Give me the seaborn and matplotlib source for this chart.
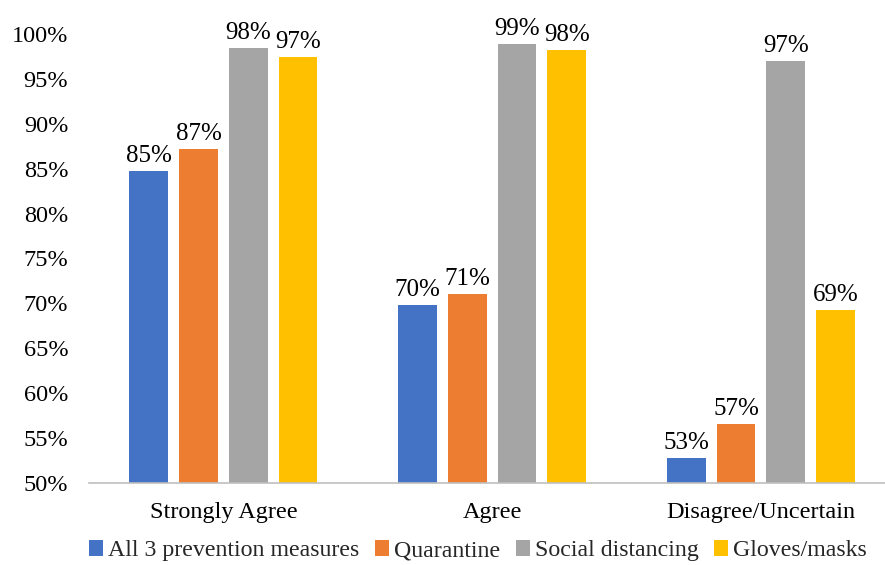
import matplotlib
matplotlib.use("Agg")
import matplotlib.pyplot as plt
import seaborn as sns
import pandas as pd

categories = ["Strongly Agree", "Agree", "Disagree/Uncertain"]
series = ["All 3 prevention measures", "Quarantine", "Social distancing", "Gloves/masks"]
all3 = [84.7, 69.8, 52.8]
quarantine = [87.2, 71.0, 56.6]
social = [98.4, 98.9, 97.0]
gloves = [97.4, 98.2, 69.3]
colors = ["#4472C4", "#ED7D31", "#A5A5A5", "#FFC000"]
yticks = [50, 55, 60, 65, 70, 75, 80, 85, 90, 95, 100]

rows = []
for s, vals in zip(series, [all3, quarantine, social, gloves]):
    for c, v in zip(categories, vals):
        rows.append({"cat": c, "series": s, "value": v})
df = pd.DataFrame(rows)

sns.set_theme(style="white")
plt.rcParams["font.family"] = ["Liberation Serif", "DejaVu Serif"]

fig = plt.figure(figsize=(8.85, 5.65), dpi=100)
ax = fig.add_axes([89/885, 82/565, 796/885, 449/565])

sns.barplot(data=df, x="cat", y="value", hue="series", order=categories,
            hue_order=series, palette=colors, width=0.74, gap=0.22,
            ax=ax, saturation=1, errorbar=None)

ax.set_ylim(50, 100)
ax.set_xlim(-0.5, 2.462)
ax.set_yticks(yticks)
ax.set_yticklabels([f"{t}%" for t in yticks])
ax.set_xlabel("")
ax.set_ylabel("")
ax.tick_params(axis="both", labelsize=17.5, length=0, colors="black")
ax.tick_params(axis="x", pad=14)
ax.tick_params(axis="y", pad=15)
for side in ["top", "right", "left"]:
    ax.spines[side].set_visible(False)
ax.spines["bottom"].set_color("#BFBFBF")
ax.spines["bottom"].set_linewidth(1.2)

for cont in ax.containers:
    ax.bar_label(cont, labels=[f"{v:.0f}%" for v in cont.datavalues],
                 fontsize=18, padding=3, color="black")

for p in ax.patches:
    p.set_edgecolor("none")

handles, labels = ax.get_legend_handles_labels()
ax.legend_.remove()
fig.legend(handles, labels, loc="center", bbox_to_anchor=(0.54, 0.025), ncol=4,
           frameon=False, fontsize=17.2, handlelength=0.6, handleheight=0.6,
           handletextpad=0.2, columnspacing=0.65)

fig.savefig("out.png", dpi=100)
